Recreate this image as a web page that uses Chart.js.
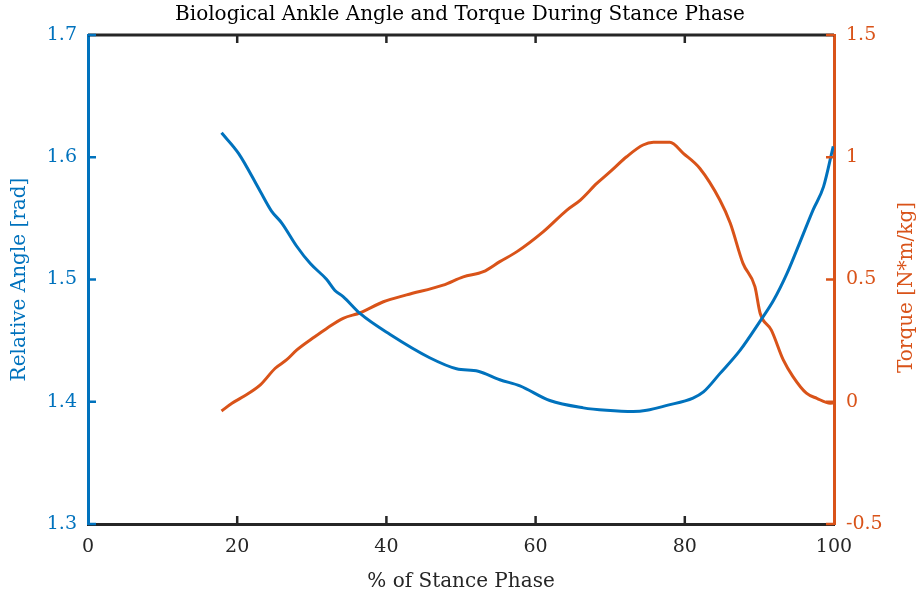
<!DOCTYPE html>
<html>
<head>
<meta charset="utf-8">
<script src="https://cdn.jsdelivr.net/npm/chart.js@4/dist/chart.umd.min.js"></script>
<style>
  html, body { margin: 0; padding: 0; background: #fff; }
  #wrap { width: 920px; height: 594px; }
</style>
</head>
<body>
<div id="wrap"><canvas id="c"></canvas></div>
<script>
// ── data ──────────────────────────────────────────
const angleX = [17.9, 20.2, 23.1, 24.6, 26.0, 28.0, 29.8, 32.0, 33.1, 34.2, 36.5, 40.5, 45.8, 49.4, 52.3, 55.2, 57.9, 61.9, 66.4, 69.5, 73.1, 74.9, 77.6, 81.1, 82.5, 84.7, 87.4, 90.1, 91.9, 93.7, 95.4, 97.2, 98.6, 99.9];
const angleY = [1.620, 1.603, 1.572, 1.556, 1.546, 1.527, 1.513, 1.500, 1.491, 1.486, 1.472, 1.455, 1.436, 1.427, 1.425, 1.418, 1.413, 1.401, 1.395, 1.393, 1.392, 1.393, 1.397, 1.403, 1.408, 1.423, 1.442, 1.466, 1.483, 1.505, 1.530, 1.557, 1.576, 1.609];

const torqueX = [17.9, 19.3, 20.6, 23.1, 25.1, 26.6, 28.0, 30.4, 32.0, 34.2, 36.5, 39.6, 42.7, 47.6, 50.3, 53.0, 55.2, 57.5, 61.0, 64.2, 66.0, 68.2, 70.0, 72.2, 74.4, 75.8, 78.0, 79.8, 82.0, 84.7, 86.1, 87.8, 89.4, 90.1, 91.6, 93.2, 94.5, 96.3, 97.7, 99.5, 100];
const torqueY = [-0.038, -0.006, 0.017, 0.069, 0.137, 0.171, 0.212, 0.266, 0.300, 0.341, 0.364, 0.409, 0.437, 0.477, 0.511, 0.532, 0.573, 0.614, 0.695, 0.784, 0.825, 0.893, 0.941, 1.002, 1.050, 1.061, 1.061, 1.016, 0.955, 0.825, 0.730, 0.566, 0.471, 0.362, 0.293, 0.171, 0.103, 0.035, 0.014, -0.006, -0.005];

const xTicks = [0, 20, 40, 60, 80, 100];
const angleTicks = [1.3, 1.4, 1.5, 1.6, 1.7];
const torqueTicks = [-0.5, 0, 0.5, 1, 1.5];

const BLUE = '#0072BD';
const ORANGE = '#D95319';
const DARK = '#262626';
const FONT = "'DejaVu Serif', 'Liberation Serif', serif";
const TORQUE_TITLE = 'Torque [N*m/kg]';

const pts = (xs, ys) => xs.map((x, i) => ({ x, y: ys[i] }));
const setTicks = arr => scale => { scale.ticks = arr.map(v => ({ value: v })); };

// inward tick marks + top box line + right label (reads bottom-up, MATLAB style)
const matlabBox = {
  id: 'matlabBox',
  afterDatasetsDraw(chart) {
    const { ctx, chartArea: a, scales } = chart;
    const len = 8;
    ctx.save();
    ctx.lineWidth = 3;
    ctx.strokeStyle = DARK;
    ctx.beginPath();
    ctx.moveTo(a.left, a.top);
    ctx.lineTo(a.right, a.top);
    ctx.stroke();
    ctx.lineWidth = 2.5;
    xTicks.slice(1, -1).forEach(v => {
      const px = scales.x.getPixelForValue(v);
      ctx.beginPath();
      ctx.moveTo(px, a.bottom); ctx.lineTo(px, a.bottom - len);
      ctx.moveTo(px, a.top); ctx.lineTo(px, a.top + len);
      ctx.stroke();
    });
    ctx.strokeStyle = BLUE;
    angleTicks.forEach(v => {
      const py = scales.y.getPixelForValue(v);
      ctx.beginPath(); ctx.moveTo(a.left, py); ctx.lineTo(a.left + len, py); ctx.stroke();
    });
    ctx.strokeStyle = ORANGE;
    torqueTicks.forEach(v => {
      const py = scales.y2.getPixelForValue(v);
      ctx.beginPath(); ctx.moveTo(a.right, py); ctx.lineTo(a.right - len, py); ctx.stroke();
    });
    ctx.translate(907, (a.top + a.bottom) / 2 + 8);
    ctx.rotate(-Math.PI / 2);
    ctx.fillStyle = ORANGE;
    ctx.font = '20px ' + FONT;
    ctx.textAlign = 'center';
    ctx.textBaseline = 'middle';
    ctx.fillText(TORQUE_TITLE, 0, 0);
    ctx.restore();
  }
};

new Chart(document.getElementById('c'), {
  type: 'line',
  data: {
    datasets: [
      { label: 'Angle', data: pts(angleX, angleY), yAxisID: 'y', borderColor: BLUE, borderWidth: 3, pointRadius: 0, cubicInterpolationMode: 'monotone', fill: false },
      { label: 'Torque', data: pts(torqueX, torqueY), yAxisID: 'y2', borderColor: ORANGE, borderWidth: 3, pointRadius: 0, cubicInterpolationMode: 'monotone', fill: false }
    ]
  },
  options: {
    responsive: true, maintainAspectRatio: false, animation: false,
    layout: { padding: 0 },
    plugins: {
      legend: { display: false },
      tooltip: { enabled: false },
      title: {
        display: true,
        text: 'Biological Ankle Angle and Torque During Stance Phase',
        color: '#000', font: { family: FONT, size: 20, weight: 'normal', lineHeight: 1.2 },
        padding: { top: 3, bottom: 8 }
      }
    },
    scales: {
      x: {
        type: 'linear', min: 0, max: 100,
        afterBuildTicks: setTicks(xTicks),
        afterFit: s => { s.height = 70; },
        grid: { display: false, drawTicks: false },
        border: { color: DARK, width: 3 },
        ticks: { color: DARK, padding: 12, font: { family: FONT, size: 19 }, callback: v => String(v) },
        title: { display: true, text: '% of Stance Phase', color: DARK, font: { family: FONT, size: 20 }, padding: { top: 0, bottom: 0 } }
      },
      y: {
        type: 'linear', position: 'left', min: 1.3, max: 1.7,
        afterBuildTicks: setTicks(angleTicks),
        afterFit: s => { s.width = 88; },
        grid: { display: false, drawTicks: false },
        border: { color: BLUE, width: 3 },
        ticks: { color: BLUE, padding: 11, font: { family: FONT, size: 19 }, callback: v => String(v) },
        title: { display: true, text: 'Relative Angle [rad]', color: BLUE, font: { family: FONT, size: 20 }, padding: { top: 8, bottom: 0 } }
      },
      y2: {
        type: 'linear', position: 'right', min: -0.5, max: 1.5,
        afterBuildTicks: setTicks(torqueTicks),
        afterFit: s => { s.width = 86; },
        grid: { display: false, drawTicks: false },
        border: { color: ORANGE, width: 3 },
        ticks: { color: ORANGE, padding: 12, font: { family: FONT, size: 19 }, callback: v => String(v) },
        title: { display: false }
      }
    }
  },
  plugins: [matlabBox]
});
</script>
</body>
</html>
